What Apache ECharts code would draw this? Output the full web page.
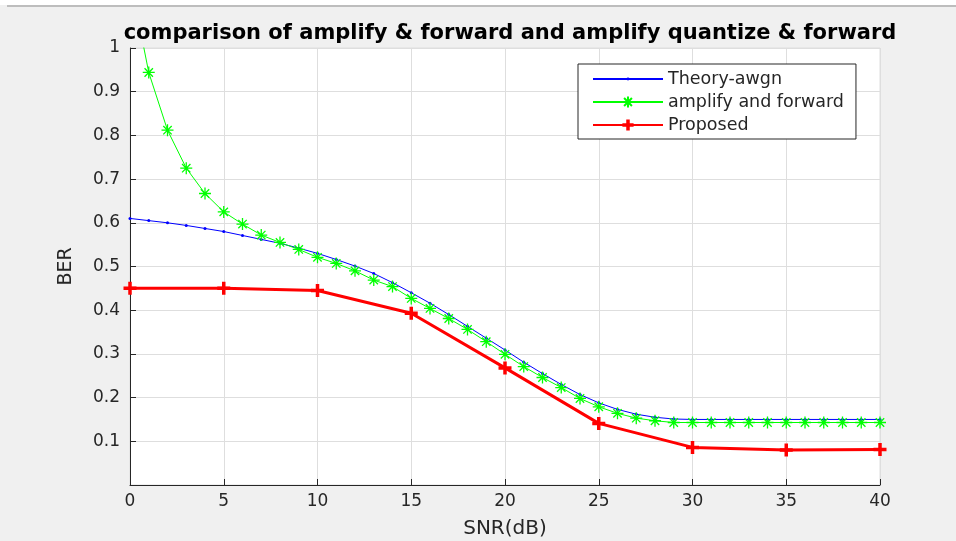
<!DOCTYPE html>
<html>
<head>
<meta charset="utf-8">
<script src="https://cdn.jsdelivr.net/npm/echarts@6/dist/echarts.min.js"></script>
<style>
  html, body { margin: 0; padding: 0; background: #f0f0f0; }
  #main { width: 956px; height: 541px; }
</style>
</head>
<body>
<div id="main"></div>
<script>
  // SNR in dB, one point per integer
  var snr = [0,1,2,3,4,5,6,7,8,9,10,11,12,13,14,15,16,17,18,19,20,21,22,23,24,25,26,27,28,29,30,31,32,33,34,35,36,37,38,39,40];
  var theoryAwgn = [0.610,0.605,0.600,0.594,0.587,0.580,0.571,0.562,0.553,0.542,0.530,0.516,0.501,0.484,0.463,0.440,0.416,0.390,0.363,0.336,0.309,0.281,0.255,0.230,0.207,0.188,0.173,0.162,0.155,0.151,0.150,0.150,0.150,0.150,0.150,0.150,0.150,0.150,0.150,0.150,0.150];
  var amplifyForward = [1.16,0.944,0.812,0.725,0.667,0.625,0.597,0.572,0.555,0.539,0.521,0.507,0.490,0.469,0.454,0.427,0.404,0.381,0.356,0.328,0.299,0.271,0.246,0.223,0.198,0.179,0.164,0.153,0.147,0.143,0.143,0.143,0.143,0.143,0.143,0.143,0.143,0.143,0.143,0.143,0.143];
  var snrProposed = [0,5,10,15,20,25,30,35,40];
  var proposed = [0.450,0.450,0.445,0.393,0.268,0.141,0.086,0.080,0.081];

  function pairs(xs, ys) {
    return xs.map(function (x, i) { return [x, ys[i]]; });
  }

  var font = 'DejaVu Sans, Verdana, sans-serif';
  var axisCol = '#262626';
  // small dot inside an empty box so the symbol stays tiny (also in the legend)
  var dot = 'path://M-4,-4L-4,-4M4,4L4,4M-1,0A1,1,0,1,0,1,0A1,1,0,1,0,-1,0Z';
  var asterisk = 'path://M0,-1L0,1M-1,0L1,0M-0.7,-0.7L0.7,0.7M-0.7,0.7L0.7,-0.7';
  var plus = 'path://M0,-1L0,1M-1,0L1,0';

  var myChart = echarts.init(document.getElementById('main'));
  var option = {
    backgroundColor: '#f0f0f0',
    animation: false,
    graphic: [
      { type: 'rect', shape: { x: 0, y: 0, width: 956, height: 5 }, style: { fill: '#ffffff' } },
      { type: 'rect', shape: { x: 7, y: 5, width: 949, height: 2 }, style: { fill: '#bdbdbd' } }
    ],
    title: {
      text: 'comparison of amplify & forward and amplify quantize & forward',
      left: 505,
      textAlign: 'center',
      top: 18,
      textStyle: { fontFamily: font, fontSize: 21, fontWeight: 'bold', color: '#000' }
    },
    legend: {
      orient: 'vertical',
      left: 578,
      top: 64,
      padding: [6, 12, 5, 14],
      itemGap: 5,
      itemWidth: 70,
      itemHeight: 14,
      backgroundColor: '#ffffff',
      borderColor: axisCol,
      borderWidth: 1,
      borderRadius: 0,
      textStyle: { fontFamily: font, fontSize: 17.5, color: axisCol },
      data: [
        { name: 'Theory-awgn' },
        { name: 'amplify and forward' },
        { name: 'Proposed', itemStyle: { borderWidth: 3.5 } }
      ]
    },
    grid: {
      left: 130, right: 76, top: 48, bottom: 56,
      outerBoundsMode: 'none',
      show: true, backgroundColor: '#ffffff', borderColor: '#dedede', borderWidth: 1
    },
    xAxis: {
      type: 'value', min: 0, max: 40, interval: 5,
      name: 'SNR(dB)', nameLocation: 'middle', nameGap: 34,
      nameTextStyle: { fontFamily: font, fontSize: 20, color: axisCol },
      axisLine: { lineStyle: { color: axisCol, width: 1 } },
      axisTick: { inside: true, length: 6, lineStyle: { color: axisCol } },
      axisLabel: { fontFamily: font, fontSize: 17, color: axisCol, margin: 8 },
      splitLine: { show: true, lineStyle: { color: '#dedede' } }
    },
    yAxis: {
      type: 'value', min: 0, max: 1, interval: 0.1,
      name: 'BER', nameLocation: 'middle', nameGap: 54,
      nameTextStyle: { fontFamily: font, fontSize: 19, color: axisCol },
      axisLine: { show: true, lineStyle: { color: axisCol, width: 1 } },
      axisTick: { show: true, inside: true, length: 6, lineStyle: { color: axisCol } },
      axisLabel: {
        fontFamily: font, fontSize: 17, color: axisCol, margin: 10,
        formatter: function (v) { return v === 0 ? '' : String(+v.toFixed(1)); }
      },
      splitLine: { show: true, lineStyle: { color: '#dedede' } }
    },
    series: [
      {
        name: 'Theory-awgn', type: 'line',
        data: pairs(snr, theoryAwgn),
        symbol: dot, symbolSize: 12,
        lineStyle: { color: '#0000ff', width: 1 },
        itemStyle: { color: '#0000ff', borderWidth: 0 }
      },
      {
        name: 'amplify and forward', type: 'line',
        data: pairs(snr, amplifyForward),
        symbol: asterisk, symbolSize: 12,
        lineStyle: { color: '#00ff00', width: 1 },
        itemStyle: { color: '#00ff00', borderColor: '#00ff00', borderWidth: 1.3 }
      },
      {
        name: 'Proposed', type: 'line',
        data: pairs(snrProposed, proposed),
        symbol: plus, symbolSize: 13,
        lineStyle: { color: '#ff0000', width: 3 },
        itemStyle: { color: '#ff0000', borderColor: '#ff0000', borderWidth: 3.5 }
      }
    ]
  };
  option && myChart.setOption(option);
</script>
</body>
</html>
